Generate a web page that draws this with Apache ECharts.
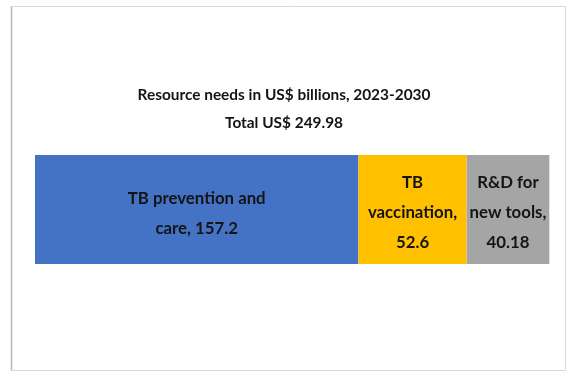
<!DOCTYPE html>
<html>
<head>
<meta charset="utf-8">
<script src="https://cdn.jsdelivr.net/npm/echarts@6/dist/echarts.min.js"></script>
<style>
  html, body { margin: 0; padding: 0; background: #ffffff; }
  #chart { width: 568px; height: 375px; }
</style>
</head>
<body>
<div id="chart"></div>
<script>
// Resource needs by component, US$ billions, 2023-2030
const categories = ['Resource needs'];
const segmentNames = ['TB prevention and\ncare', 'TB\nvaccination', 'R&D for\nnew tools'];
const segmentValues = [157.2, 52.6, 40.18];
const segmentColors = ['#4472C4', '#FFC000', '#A5A5A5'];
const totalValue = 249.98;
const titleLines = ['Resource needs in US$ billions, 2023-2030', 'Total US$ 249.98'];

const FONT = 'Lato';
const TEXT = '#141414';

const chart = echarts.init(document.getElementById('chart'), null, { renderer: 'canvas' });

// one stacked segment per component; the label carries name and value
const series = segmentNames.map((name, i) => ({
  name: name,
  type: 'bar',
  stack: 'total',
  barWidth: 109,
  data: [segmentValues[i]],
  itemStyle: { color: segmentColors[i] },
  label: {
    show: true,
    position: 'inside',
    formatter: () => name + ',' + (i === 0 ? ' ' : '\n') + segmentValues[i],
    color: TEXT,
    fontFamily: FONT,
    fontWeight: 'bold',
    fontSize: 16.8,
    lineHeight: 30,
    align: 'center',
    offset: i === 0 ? [0, 4] : [0, 3.5]
  },
  emphasis: { disabled: true }
}));

chart.setOption({
  animation: false,
  backgroundColor: '#ffffff',
  title: {
    text: titleLines.join('\n'),
    left: 'center',
    top: 75.5,
    textStyle: {
      color: TEXT,
      fontFamily: FONT,
      fontWeight: 'bold',
      fontSize: 15.4,
      lineHeight: 28.5
    }
  },
  grid: { left: 35, top: 155, width: 514.3, height: 109, containLabel: false },
  xAxis: {
    type: 'value',
    min: 0,
    max: totalValue,
    show: false
  },
  yAxis: {
    type: 'category',
    data: categories,
    show: false
  },
  series: series,
  graphic: [
    {
      type: 'rect',
      shape: { x: 11.5, y: 6.5, width: 554, height: 364 },
      style: { fill: 'none', stroke: '#dadada', lineWidth: 1 },
      silent: true
    },
    {
      type: 'line',
      shape: { x1: 11.5, y1: 6.5, x2: 11.5, y2: 370.5 },
      style: { stroke: '#b8b8b8', lineWidth: 1.5 },
      silent: true
    }
  ]
});
</script>
</body>
</html>
